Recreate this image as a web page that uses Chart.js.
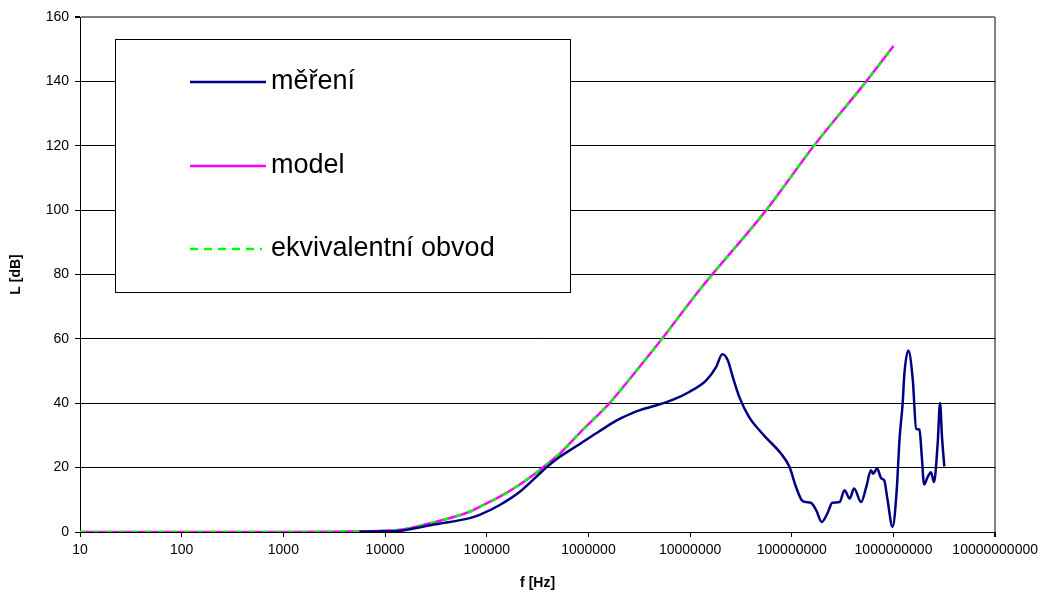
<!DOCTYPE html>
<html>
<head>
<meta charset="utf-8">
<script src="https://cdn.jsdelivr.net/npm/chart.js@4"></script>
<style>
  html, body { margin: 0; padding: 0; background: #fff; }
  canvas { display: block; }
</style>
</head>
<body>
<canvas id="c" width="1043" height="593"></canvas>
<script>
// ---- data ----
const seriesNames = ['měření', 'model', 'ekvivalentní obvod'];
const xTickValues = [10, 100, 1000, 10000, 100000, 1000000, 10000000, 100000000, 1000000000, 10000000000];

const freqMeasured = [5600, 10000, 15000, 30000, 68000, 85000, 133000, 210000, 330000, 384000, 520000, 810000,
  1.28e6, 1.86e6, 2.17e6, 3.16e6, 4.6e6, 6.8e6, 9.8e6, 1.44e7, 1.8e7, 2.07e7, 2.35e7, 2.63e7, 3.05e7, 3.8e7,
  4.8e7, 5.7e7, 7.85e7, 9.5e7, 1.1e8, 1.28e8, 1.55e8, 1.74e8, 1.97e8, 2.25e8, 2.5e8, 2.95e8, 3.3e8, 3.7e8,
  4.1e8, 4.8e8, 5.4e8, 6e8, 6.3e8, 6.9e8, 7.6e8, 8.1e8, 8.7e8, 9.8e8, 1.07e9, 1.15e9, 1.23e9, 1.28e9, 1.4e9,
  1.55e9, 1.67e9, 1.8e9, 1.9e9, 2.0e9, 2.17e9, 2.34e9, 2.5e9, 2.72e9, 2.87e9, 3.0e9, 3.16e9];
const levelMeasured = [0.1, 0.2, 0.5, 2.3, 4.3, 5.3, 8.3, 12.4, 18.1, 20.0, 23.3, 27.2,
  31.3, 34.5, 35.6, 37.8, 39.3, 41.1, 43.5, 47.1, 51.2, 55.2, 53.3, 48.1, 41.9, 35.7,
  31.6, 29.0, 24.3, 20.2, 14.0, 9.6, 9.0, 6.7, 3.1, 5.9, 9.1, 9.3, 13.0, 10.4,
  13.5, 9.3, 14.0, 19.2, 18.1, 19.7, 16.6, 16.1, 10.4, 1.6, 11.9, 29.5, 39.9, 49.2, 56.4,
  47.1, 32.1, 31.8, 23.3, 14.8, 17.1, 18.6, 15.5, 27.5, 40.1, 29.5, 20.4];

const freqModel = [10, 30, 100, 1000, 3000, 10000, 15000, 30000, 68000, 85000, 133000, 210000, 330000,
  520000, 810000, 1.28e6, 1.6e6, 3.16e6, 5.2e6, 1.23e7, 5.6e7, 1.65e8, 5.4e8, 1e9];
const levelModel = [0, 0, 0, 0, 0.1, 0.4, 0.8, 3.0, 6.3, 7.8, 10.9, 14.7, 19.2,
  24.3, 30.6, 36.8, 39.9, 51.2, 59.7, 75.1, 100.0, 120.0, 140.0, 151.0];
const levelEquivalent = [0, 0, 0, 0, 0.1, 0.4, 0.8, 3.0, 6.3, 7.8, 10.9, 14.7, 19.2,
  24.3, 30.6, 36.8, 39.9, 51.2, 59.7, 75.1, 100.0, 120.0, 140.0, 151.0];

// ---- chart ----
const FONT = "'Liberation Sans', Arial, sans-serif";
const toPoints = (xs, ys) => xs.map((x, i) => ({ x: x, y: ys[i] }));

const colors = ['#000080', '#FF00FF', '#00FF00'];
const dashes = [[], [], [6, 7]];

const legendBox = {
  id: 'legendBox',
  afterDatasetsDraw(chart) {
    const ctx = chart.ctx;
    ctx.save();
    ctx.fillStyle = '#fff';
    ctx.fillRect(115, 39, 455, 253);
    ctx.strokeStyle = '#000';
    ctx.lineWidth = 1;
    ctx.strokeRect(115.5, 39.5, 455, 253);
    const rows = [82, 166, 249];
    chart.data.datasets.forEach((ds, i) => {
      const y = rows[i];
      ctx.beginPath();
      ctx.strokeStyle = ds.borderColor;
      ctx.lineWidth = 2.5;
      ctx.setLineDash(i === 2 ? [8, 6] : []);
      ctx.moveTo(190, y);
      ctx.lineTo(i === 2 ? 262 : 266, y);
      ctx.stroke();
      ctx.setLineDash([]);
      ctx.fillStyle = '#000';
      ctx.font = '27px ' + FONT;
      ctx.textBaseline = 'middle';
      ctx.textAlign = 'left';
      ctx.fillText(ds.label, 271, y);
    });
    ctx.restore();
  }
};

new Chart(document.getElementById('c'), {
  type: 'line',
  data: {
    datasets: [
      { label: seriesNames[0], data: toPoints(freqMeasured, levelMeasured), order: 0 },
      { label: seriesNames[1], data: toPoints(freqModel, levelModel), order: 2 },
      { label: seriesNames[2], data: toPoints(freqModel, levelEquivalent), order: 1 }
    ].map((d, i) => Object.assign(d, {
      borderColor: colors[i],
      backgroundColor: colors[i],
      borderWidth: 2.5,
      borderDash: dashes[i],
      pointRadius: 0,
      fill: false,
      cubicInterpolationMode: 'monotone'
    }))
  },
  options: {
    responsive: false,
    animation: false,
    layout: { padding: { left: 0, top: 17, right: 45, bottom: 0 } },
    plugins: { legend: { display: false }, tooltip: { enabled: false } },
    scales: {
      x: {
        type: 'logarithmic',
        min: 10,
        max: 10000000000,
        afterBuildTicks: (s) => { s.ticks = xTickValues.map(v => ({ value: v })); },
        afterFit: (s) => { s.height = 61; },
        ticks: {
          autoSkip: false,
          maxRotation: 0,
          minRotation: 0,
          padding: 5,
          color: '#000',
          font: { family: FONT, size: 14 },
          callback: (v) => String(v)
        },
        grid: {
          drawTicks: true,
          tickLength: 5,
          tickColor: '#000',
          color: (c) => (c.index === xTickValues.length - 1 ? '#808080' : 'rgba(0,0,0,0)'),
          lineWidth: (c) => (c.index === xTickValues.length - 1 ? 2 : 1)
        },
        border: { color: '#000', width: 1 },
        title: {
          display: true,
          text: 'f [Hz]',
          color: '#000',
          font: { family: FONT, size: 14, weight: 'bold' },
          padding: { top: 1, bottom: 1 }
        }
      },
      y: {
        min: 0,
        max: 160,
        afterFit: (s) => { s.width = 80; },
        ticks: {
          stepSize: 20,
          padding: 6,
          color: '#000',
          font: { family: FONT, size: 14 }
        },
        grid: {
          drawTicks: true,
          tickLength: 5,
          tickColor: '#000',
          color: (c) => (c.tick && c.tick.value === 160 ? '#808080' : '#000'),
          lineWidth: (c) => (c.tick && c.tick.value === 160 ? 2 : 1)
        },
        border: { color: '#000', width: 1 },
        title: {
          display: true,
          text: 'L [dB]',
          color: '#000',
          font: { family: FONT, size: 14, weight: 'bold' },
          padding: { top: 8, bottom: 8 }
        }
      }
    }
  },
  plugins: [legendBox]
});
</script>
</body>
</html>
